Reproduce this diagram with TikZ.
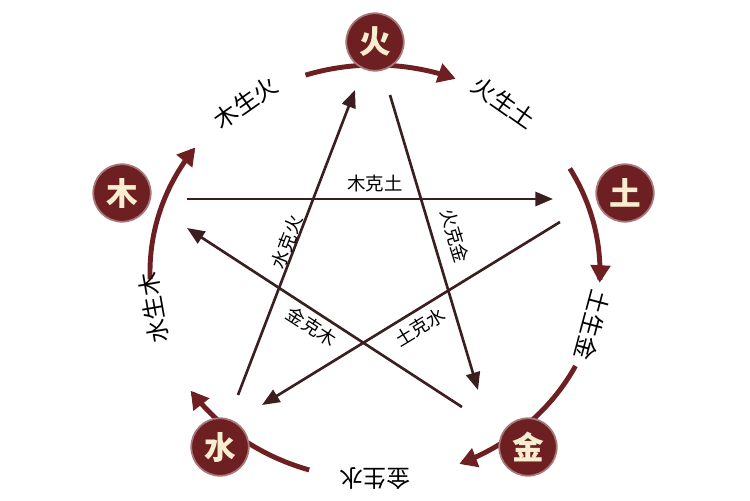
\documentclass[tikz,border=0pt]{standalone}
\usepackage{fontspec}
\newfontfamily\cjk{Noto Sans CJK SC}
\usetikzlibrary{arrows.meta}
\definecolor{maroon}{HTML}{6E1F22}
\definecolor{dark}{HTML}{3A1E20}
\definecolor{cream}{HTML}{F8EDD0}
\tikzset{
 elem/.style={circle,fill=maroon,draw=maroon!60,line width=1pt,minimum size=1.15cm,inner sep=0pt,text=cream,font=\cjk\fontsize{18}{18}\selectfont\bfseries},
 sheng/.style={draw=maroon,line width=2.8pt,-{Triangle[length=10pt,width=11pt]}},
 ke/.style={draw=dark,line width=1.5pt,-{Triangle[length=10pt,width=8pt]}},
 slab/.style={font=\cjk\fontsize{13.5}{14}\selectfont,text=black,inner sep=0pt},
 klab/.style={font=\cjk\fontsize{10.5}{11}\selectfont,text=black,inner sep=0pt},
}
\begin{document}
\begin{tikzpicture}[x=0.02cm,y=-0.02cm]
\useasboundingbox[fill=white] (0,0) rectangle (750,500);
\draw[sheng] plot[domain=108:69,samples=40] ({375+225*cos(\x)},{272-207*sin(\x)});
\draw[sheng] plot[domain=30:-3,samples=40] ({375+225*cos(\x)},{272-207*sin(\x)});
\draw[sheng] plot[domain=-27:-68,samples=40] ({375+225*cos(\x)},{272-207*sin(\x)});
\draw[sheng] plot[domain=-107:-145,samples=40] ({375+225*cos(\x)},{272-207*sin(\x)});
\draw[sheng] plot[domain=182:143,samples=40] ({375+225*cos(\x)},{272-207*sin(\x)});
\node[slab,rotate=35] (l1) at ({375+225*cos(125)},{272-207*sin(125)}) {木生火};
\node[slab,rotate=-35] (l2) at ({375+225*cos(55)},{272-207*sin(55)}) {火生土};
\node[slab,rotate=-105] (l3) at ({375+225*cos(-15)},{272-207*sin(-15)}) {土生金};
\node[slab,rotate=180] (l4) at ({375+225*cos(-90)},{272-207*sin(-90)}) {金生水};
\node[slab,rotate=100] (l5) at ({375+225*cos(-170)},{272-207*sin(-170)}) {水生木};
\node[elem] (huo) at (375,42) {火};
\node[elem] (tu) at (625,193) {土};
\node[elem] (jin) at (528,447) {金};
\node[elem] (shui) at (220,447) {水};
\node[elem] (mu) at (122,193) {木};
\coordinate (a1) at (187,199); \coordinate (a2) at (553,199);
\coordinate (b1) at (462,407); \coordinate (b2) at (187,228);
\coordinate (c1) at (560,222); \coordinate (c2) at (262,405);
\coordinate (d1) at (390,95);  \coordinate (d2) at (478,390);
\coordinate (e1) at (238,395); \coordinate (e2) at (355,90);
\draw[ke] (a1) -- (a2);
\draw[ke] (b1) -- (b2);
\draw[ke] (c1) -- (c2);
\draw[ke] (d1) -- (d2);
\draw[ke] (e1) -- (e2);
\node[klab] (k1) at (375,183) {木克土};
\node[klab,rotate=69] (k2) at (287,242) {水克火};
\node[klab,rotate=-73] (k3) at (455,236) {火克金};
\node[klab,rotate=-33] (k4) at (312,327) {金克木};
\node[klab,rotate=31.5] (k5) at (420,327) {土克水};
\end{tikzpicture}
\end{document}
